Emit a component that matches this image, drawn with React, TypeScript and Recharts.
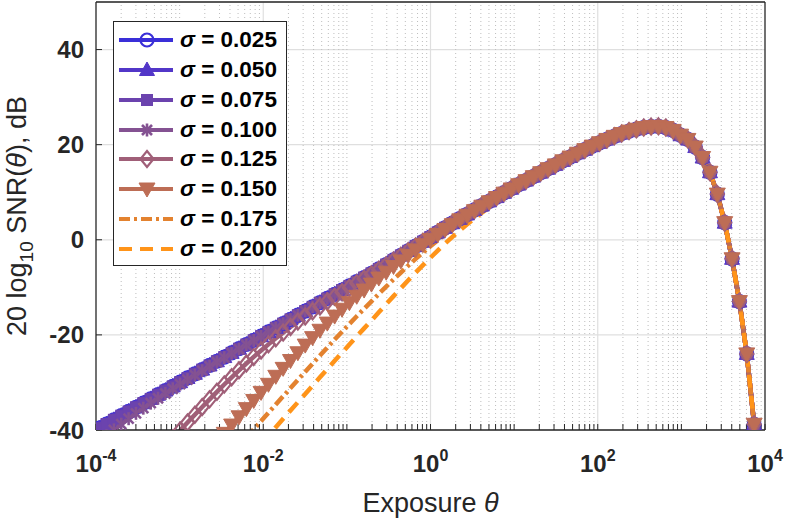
import React from 'react';
import { LineChart, Line, XAxis, YAxis, CartesianGrid, ReferenceLine } from 'recharts';

const FONT = '"Liberation Sans", Arial, Helvetica, sans-serif';
const AXIS = '#262626';

// log10 of exposure theta (x values)
const logTheta = [
  -4.05, -3.962, -3.874, -3.786, -3.698, -3.61, -3.522, -3.434, -3.346, -3.258,
  -3.17, -3.082, -2.994, -2.906, -2.818, -2.73, -2.642, -2.554, -2.466, -2.378,
  -2.29, -2.202, -2.114, -2.026, -1.938, -1.85, -1.762, -1.674, -1.586, -1.498,
  -1.41, -1.322, -1.234, -1.146, -1.058, -0.97, -0.882, -0.794, -0.706, -0.618,
  -0.53, -0.442, -0.354, -0.266, -0.178, -0.09, -0.002, 0.086, 0.174, 0.262,
  0.35, 0.438, 0.526, 0.614, 0.702, 0.79, 0.878, 0.966, 1.054, 1.142,
  1.23, 1.318, 1.406, 1.494, 1.582, 1.67, 1.758, 1.846, 1.934, 2.022,
  2.11, 2.198, 2.286, 2.374, 2.462, 2.55, 2.638, 2.726, 2.814, 2.902,
  2.99, 3.078, 3.166, 3.254, 3.342, 3.43, 3.518, 3.606, 3.694, 3.782,
  3.87,
];

// high-exposure part, common to every sigma (curves coincide there)
const snrHighShared = [
  16.6, 17.4, 18.2, 18.95, 19.7, 20.4, 21.1, 21.75, 22.35, 22.85,
  23.25, 23.6, 23.8, 23.85, 23.6, 23.0, 22.0, 21.1, 19.5, 17.3,
  14.2, 9.6, 3.6, -4.0, -13.0, -24.0, -38.8,
];

const snrSigma025Low = [
  -40.5, -39.62, -38.74, -37.86, -36.98, -36.1, -35.22, -34.34, -33.46, -32.58,
  -31.7, -30.82, -29.94, -29.06, -28.18, -27.3, -26.42, -25.54, -24.66, -23.78,
  -22.9, -22.02, -21.14, -20.26, -19.38, -18.5, -17.62, -16.74, -15.86, -14.98,
  -14.1, -13.22, -12.34, -11.46, -10.58, -9.7, -8.82, -7.94,
  -7.06, -6.13, -5.2, -4.24, -3.29, -2.31, -1.33, -0.38, 0.57, 1.55,
  2.53, 3.49, 4.44, 5.34, 6.29, 7.2, 8.09, 8.98, 9.88, 10.75,
  11.62, 12.46, 13.3, 14.13, 14.96, 15.77,
];

const snrSigma050Low = [
  -40.5, -39.62, -38.74, -37.86, -36.98, -36.1, -35.22, -34.34, -33.46, -32.58,
  -31.7, -30.82, -29.94, -29.06, -28.18, -27.3, -26.42, -25.54, -24.66, -23.78,
  -22.9, -22.02, -21.14, -20.26, -19.38, -18.5, -17.62, -16.74, -15.86, -14.98,
  -14.1, -13.22, -12.34, -11.46, -10.58, -9.7, -8.82, -7.94,
  -7.06, -6.13, -5.2, -4.24, -3.29, -2.31, -1.33, -0.38, 0.57, 1.55,
  2.53, 3.49, 4.44, 5.34, 6.29, 7.2, 8.09, 8.98, 9.88, 10.75,
  11.62, 12.46, 13.3, 14.13, 14.96, 15.77,
];

const snrSigma075Low = [
  -40.5, -39.62, -38.74, -37.86, -36.98, -36.1, -35.22, -34.34, -33.46, -32.58,
  -31.7, -30.82, -29.94, -29.06, -28.18, -27.3, -26.42, -25.54, -24.66, -23.78,
  -22.9, -22.02, -21.14, -20.26, -19.38, -18.5, -17.62, -16.74, -15.86, -14.98,
  -14.1, -13.22, -12.34, -11.46, -10.58, -9.7, -8.82, -7.94,
  -7.06, -6.13, -5.2, -4.24, -3.29, -2.31, -1.33, -0.38, 0.57, 1.55,
  2.53, 3.49, 4.44, 5.34, 6.29, 7.2, 8.09, 8.98, 9.88, 10.75,
  11.62, 12.46, 13.3, 14.13, 14.96, 15.77,
];

const snrSigma100Low = [
  -43.84, -42.51, -41.22, -39.98, -38.78, -37.62, -36.5, -35.41, -34.35, -33.32,
  -32.32, -31.33, -30.36, -29.41, -28.46, -27.53, -26.61, -25.7, -24.79, -23.89,
  -22.99, -22.09, -21.2, -20.31, -19.42, -18.53, -17.65, -16.76, -15.88, -14.99,
  -14.11, -13.23, -12.34, -11.46, -10.58, -9.7, -8.82, -7.94,
  -7.06, -6.13, -5.2, -4.24, -3.29, -2.31, -1.33, -0.38, 0.57, 1.55,
  2.53, 3.49, 4.44, 5.34, 6.29, 7.2, 8.09, 8.98, 9.88, 10.75,
  11.62, 12.46, 13.3, 14.13, 14.96, 15.77,
];

const snrSigma125Low = [
  null, null, null, null, null, null, null, null, null, null,
  -43.48, -41.78, -40.1, -38.43, -36.78, -35.15, -33.55, -31.98, -30.43, -28.92,
  -27.45, -26.02, -24.63, -23.29, -21.99, -20.73, -19.52, -18.35, -17.21, -16.12,
  -15.05, -14.01, -12.99, -12.0, -11.03, -10.07, -9.12, -8.19,
  -7.26, -6.3, -5.34, -4.35, -3.38, -2.38, -1.39, -0.43, 0.54, 1.52,
  2.5, 3.47, 4.42, 5.34, 6.28, 7.19, 8.08, 8.97, 9.88, 10.75,
  11.62, 12.46, 13.3, 14.13, 14.96, 15.77,
];

const snrSigma150Low = [
  null, null, null, null, null, null, null, null, null, null,
  null, null, null, null, null, null, null, -42.44, -40.7, -38.96,
  -37.23, -35.51, -33.79, -32.09, -30.39, -28.71, -27.04, -25.39, -23.76, -22.15,
  -20.58, -19.03, -17.52, -16.05, -14.61, -13.22, -11.88, -10.57,
  -9.32, -8.05, -6.82, -5.61, -4.44, -3.27, -2.13, -1.04, 0.03, 1.1,
  2.16, 3.18, 4.19, 5.15, 6.12, 7.06, 7.98, 8.89, 9.8, 10.69,
  11.57, 12.42, 13.27, 14.1, 14.94, 15.75,
];

const snrSigma175Low = [
  null, null, null, null, null, null, null, null, null, null,
  null, null, null, null, null, null, null, null, null, null,
  null, -41.63, -39.88, -38.13, -36.39, -34.65, -32.91, -31.18, -29.46, -27.74,
  -26.03, -24.33, -22.65, -20.98, -19.33, -17.69, -16.09, -14.51,
  -12.96, -11.39, -9.86, -8.34, -6.88, -5.42, -4.02, -2.68, -1.38, -0.1,
  1.13, 2.31, 3.46, 4.54, 5.61, 6.63, 7.62, 8.6, 9.56, 10.49,
  11.41, 12.29, 13.16, 14.01, 14.86, 15.69,
];

const snrSigma200Low = [
  null, null, null, null, null, null, null, null, null, null,
  null, null, null, null, null, null, null, null, null, null,
  null, null, null, -42.91, -41.16, -39.4, -37.65, -35.9, -34.15, -32.41,
  -30.66, -28.93, -27.19, -25.46, -23.74, -22.03, -20.33, -18.63,
  -16.96, -15.25, -13.55, -11.85, -10.19, -8.52, -6.89, -5.32, -3.79, -2.27,
  -0.8, 0.61, 1.96, 3.24, 4.49, 5.67, 6.81, 7.91, 8.99, 10.01,
  11.0, 11.95, 12.88, 13.78, 14.68, 15.54,
];

const snrSigma025 = [...snrSigma025Low, ...snrHighShared];
const snrSigma050 = [...snrSigma050Low, ...snrHighShared];
const snrSigma075 = [...snrSigma075Low, ...snrHighShared];
const snrSigma100 = [...snrSigma100Low, ...snrHighShared];
const snrSigma125 = [...snrSigma125Low, ...snrHighShared];
const snrSigma150 = [...snrSigma150Low, ...snrHighShared];
const snrSigma175 = [...snrSigma175Low, ...snrHighShared];
const snrSigma200 = [...snrSigma200Low, ...snrHighShared];

const sigmaLabels = ['0.025', '0.050', '0.075', '0.100', '0.125', '0.150', '0.175', '0.200'];
const seriesKeys = ['s025', 's050', 's075', 's100', 's125', 's150', 's175', 's200'];
const seriesValues = [snrSigma025, snrSigma050, snrSigma075, snrSigma100, snrSigma125, snrSigma150, snrSigma175, snrSigma200];
const seriesColors = ['#3a2fd8', '#5236c8', '#6b43ae', '#845292', '#a05f78', '#bd6d55', '#e3822f', '#ff9419'];
const seriesMarkers = ['circle', 'triangleUp', 'square', 'asterisk', 'diamond', 'triangleDown', 'none', 'none'];
const seriesDash: (string | undefined)[] = [undefined, undefined, undefined, undefined, undefined, undefined, '11 4 3 4', '13 8'];

const xMajorTicks = [-4, -2, 0, 2, 4];
const mantissaLog = [0, 0.30103, 0.47712, 0.60206, 0.69897, 0.77815, 0.8451, 0.90309, 0.95424];
const decades = [-4, -3, -2, -1, 0, 1, 2, 3];
const yTicks = [-40, -20, 0, 20, 40];

const allXTicks = decades.flatMap((d) => mantissaLog.map((m) => d + m)).concat([4]);
const minorXTicks = allXTicks.filter((v) => !xMajorTicks.some((t) => Math.abs(t - v) < 1e-9));

const rows = logTheta.map((x, i) => {
  const r: Record<string, number | null> = { x };
  seriesKeys.forEach((k, j) => {
    r[k] = seriesValues[j][i];
  });
  return r;
});

function Marker({ shape, color, x, y }: { shape: string; color: string; x: number; y: number }) {
  switch (shape) {
    case 'circle':
      return <circle cx={x} cy={y} r={6.5} fill="none" stroke={color} strokeWidth={2.2} />;
    case 'triangleUp':
      return <polygon points={`${x},${y - 8} ${x - 7.5},${y + 5.5} ${x + 7.5},${y + 5.5}`} fill={color} stroke={color} strokeWidth={1} />;
    case 'square':
      return <rect x={x - 5.5} y={y - 5.5} width={11} height={11} fill={color} stroke={color} strokeWidth={1} />;
    case 'asterisk':
      return (
        <g stroke={color} strokeWidth={2.6}>
          <line x1={x - 5} y1={y - 5} x2={x + 5} y2={y + 5} />
          <line x1={x - 5} y1={y + 5} x2={x + 5} y2={y - 5} />
          <line x1={x} y1={y - 6.5} x2={x} y2={y + 6.5} />
        </g>
      );
    case 'diamond':
      return <polygon points={`${x},${y - 8} ${x + 6.5},${y} ${x},${y + 8} ${x - 6.5},${y}`} fill="none" stroke={color} strokeWidth={2.2} />;
    case 'triangleDown':
      return <polygon points={`${x - 8},${y - 6} ${x + 8},${y - 6} ${x},${y + 8}`} fill={color} stroke={color} strokeWidth={1} />;
    default:
      return null;
  }
}

const makeDot = (shape: string, color: string) => (props: any) => {
  const { cx, cy, index } = props;
  if (cx == null || cy == null || Number.isNaN(cx) || Number.isNaN(cy)) return <g key={`e${index}`} />;
  return (
    <g key={`d${index}`}>
      <Marker shape={shape} color={color} x={cx} y={cy} />
    </g>
  );
};

const XTick = (props: any) => {
  const { x, y, payload } = props;
  const v = payload.value as number;
  const r = Math.round(v);
  if (Math.abs(v - r) > 1e-6 || r % 2 !== 0) return <g />;
  return (
    <text x={x} y={y + 42} textAnchor="middle" fill={AXIS} fontFamily={FONT} fontWeight="bold" fontSize={24}>
      <tspan>10</tspan>
      <tspan dy={-11} fontSize={16}>{String(r)}</tspan>
    </text>
  );
};

const XLabel = (props: any) => {
  const vb = props.viewBox || { x: 96, y: 430, width: 669, height: 92 };
  const cx = vb.x + vb.width / 2;
  return (
    <text x={cx} y={vb.y + 82} textAnchor="middle" fill={AXIS} fontFamily={FONT} fontSize={27}>
      Exposure <tspan fontStyle="italic">θ</tspan>
    </text>
  );
};

const YLabel = (props: any) => {
  const vb = props.viewBox || { x: 0, y: 2, width: 96, height: 428 };
  const cy = vb.y + vb.height / 2;
  const x = vb.x + 26;
  return (
    <text x={x} y={cy} transform={`rotate(-90, ${x}, ${cy})`} textAnchor="middle" fill={AXIS} fontFamily={FONT} fontSize={27}>
      20 log<tspan dy={7} fontSize={19}>10</tspan>
      <tspan dy={-7}> SNR(</tspan>
      <tspan fontStyle="italic">θ</tspan>
      <tspan>), dB</tspan>
    </text>
  );
};

function LegendBox() {
  return (
    <div
      style={{
        position: 'absolute',
        left: 113,
        top: 21,
        width: 174,
        height: 245,
        boxSizing: 'border-box',
        border: `1px solid ${AXIS}`,
        background: '#fff',
        fontFamily: FONT,
      }}
    >
      {sigmaLabels.map((lab, i) => (
        <div key={lab} style={{ position: 'absolute', left: 0, top: 3.1 + i * 29.8, width: 172, height: 29.8 }}>
          <svg width={64} height={30} style={{ position: 'absolute', left: 0, top: 0 }}>
            <line x1={5} y1={15} x2={59} y2={15} stroke={seriesColors[i]} strokeWidth={4} strokeDasharray={seriesDash[i]} />
            <Marker shape={seriesMarkers[i]} color={seriesColors[i]} x={33} y={15} />
          </svg>
          <div
            style={{
              position: 'absolute',
              left: 66,
              top: 0,
              height: 29.8,
              lineHeight: '29.8px',
              fontSize: 22.5,
              fontWeight: 'bold',
              color: '#000',
              whiteSpace: 'nowrap',
            }}
          >
            <span style={{ fontStyle: 'italic' }}>σ</span> = {lab}
          </div>
        </div>
      ))}
    </div>
  );
}

export default function App() {
  return (
    <div style={{ position: 'absolute', left: 0, top: 0, width: 788, height: 522, background: '#fff' }}>
      <LineChart width={788} height={522} data={rows} margin={{ top: 1, right: 22, bottom: 0, left: 0 }}>
        <CartesianGrid vertical={false} stroke="#dfdfdf" strokeWidth={1.2} />
        {minorXTicks.map((v) => (
          <ReferenceLine key={`m${v}`} x={v} stroke="#bdbdbd" strokeWidth={1} strokeDasharray="1 3" />
        ))}
        {[-2, 0, 2].map((v) => (
          <ReferenceLine key={`M${v}`} x={v} stroke="#dfdfdf" strokeWidth={1.2} />
        ))}
        <XAxis
          dataKey="x"
          type="number"
          domain={[-4, 4]}
          ticks={allXTicks}
          interval={0}
          allowDataOverflow
          height={92}
          tickSize={-6}
          tickMargin={6}
          tick={<XTick />}
          axisLine={{ stroke: AXIS, strokeWidth: 1.3 }}
          tickLine={{ stroke: AXIS, strokeWidth: 1 }}
          label={<XLabel />}
        />
        <XAxis
          xAxisId="top"
          orientation="top"
          type="number"
          domain={[-4, 4]}
          ticks={allXTicks}
          interval={0}
          allowDataOverflow
          height={1}
          tickSize={-6}
          tick={false}
          axisLine={{ stroke: AXIS, strokeWidth: 1.3 }}
          tickLine={{ stroke: AXIS, strokeWidth: 1 }}
        />
        <YAxis
          type="number"
          domain={[-40, 50]}
          ticks={yTicks}
          interval={0}
          allowDataOverflow
          width={96}
          tickSize={-6}
          tickMargin={18}
          tick={{ fill: AXIS, fontSize: 24, fontWeight: 'bold', fontFamily: FONT }}
          axisLine={{ stroke: AXIS, strokeWidth: 1.3 }}
          tickLine={{ stroke: AXIS, strokeWidth: 1 }}
          label={<YLabel />}
        />
        <YAxis
          yAxisId="right"
          orientation="right"
          type="number"
          domain={[-40, 50]}
          ticks={yTicks}
          interval={0}
          allowDataOverflow
          width={1}
          tickSize={-6}
          tick={false}
          axisLine={{ stroke: AXIS, strokeWidth: 1.3 }}
          tickLine={{ stroke: AXIS, strokeWidth: 1 }}
        />
        {seriesKeys.map((k, i) => (
          <Line
            key={k}
            type="linear"
            dataKey={k}
            name={`σ = ${sigmaLabels[i]}`}
            stroke={seriesColors[i]}
            strokeWidth={4.5}
            strokeDasharray={seriesDash[i]}
            dot={seriesMarkers[i] === 'none' ? false : makeDot(seriesMarkers[i], seriesColors[i])}
            activeDot={false}
            isAnimationActive={false}
          />
        ))}
      </LineChart>
      <LegendBox />
    </div>
  );
}
